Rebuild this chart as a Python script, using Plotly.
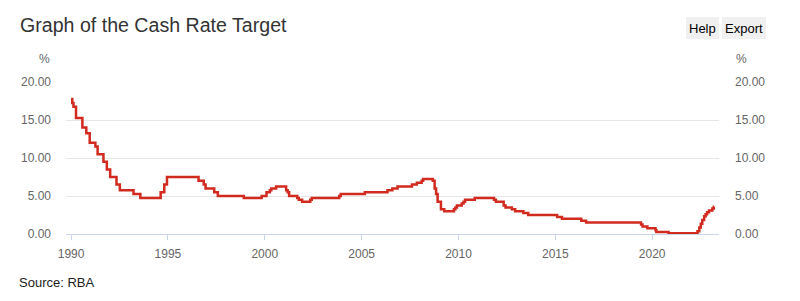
import plotly.graph_objects as go

# Cash rate target: change dates and new levels (%)
dates = [
    "1990-01-01", "1990-01-23", "1990-02-15", "1990-04-04", "1990-08-02", "1990-10-15", "1990-12-18",
    "1991-04-04", "1991-05-16", "1991-09-03", "1991-11-06",
    "1992-01-08", "1992-05-06", "1992-07-08",
    "1993-03-23", "1993-07-30",
    "1994-08-17", "1994-10-24", "1994-12-14",
    "1996-07-31", "1996-11-06", "1996-12-11",
    "1997-05-23", "1997-07-30",
    "1998-12-02",
    "1999-11-03",
    "2000-02-02", "2000-04-05", "2000-05-03", "2000-08-02",
    "2001-02-07", "2001-03-07", "2001-04-04", "2001-09-05", "2001-10-03", "2001-12-05",
    "2002-05-08", "2002-06-05",
    "2003-11-05", "2003-12-03",
    "2005-03-02",
    "2006-05-03", "2006-08-02", "2006-11-08",
    "2007-08-08", "2007-11-07",
    "2008-02-06", "2008-03-05", "2008-09-03", "2008-10-08", "2008-11-05", "2008-12-03",
    "2009-02-04", "2009-04-08", "2009-10-07", "2009-11-04", "2009-12-02",
    "2010-03-03", "2010-04-07", "2010-05-05", "2010-11-03",
    "2011-11-02", "2011-12-07",
    "2012-05-02", "2012-06-06", "2012-10-03", "2012-12-05",
    "2013-05-08", "2013-08-07",
    "2015-02-04", "2015-05-06",
    "2016-05-04", "2016-08-03",
    "2019-06-05", "2019-07-03", "2019-10-02",
    "2020-03-04", "2020-03-20", "2020-11-04",
    "2022-05-04", "2022-06-08", "2022-07-06", "2022-08-03", "2022-09-07", "2022-10-05",
    "2022-11-02", "2022-12-07",
    "2023-02-08", "2023-03-08", "2023-03-15",
]
rates = [
    17.75, 17.25, 16.75, 15.25, 14.00, 13.25, 12.00,
    11.50, 10.50, 9.50, 8.50,
    7.50, 6.50, 5.75,
    5.25, 4.75,
    5.50, 6.50, 7.50,
    7.00, 6.50, 6.00,
    5.50, 5.00,
    4.75,
    5.00,
    5.50, 5.75, 6.00, 6.25,
    5.75, 5.50, 5.00, 4.75, 4.50, 4.25,
    4.50, 4.75,
    5.00, 5.25,
    5.50,
    5.75, 6.00, 6.25,
    6.50, 6.75,
    7.00, 7.25, 7.00, 6.00, 5.25, 4.25,
    3.25, 3.00, 3.25, 3.50, 3.75,
    4.00, 4.25, 4.50, 4.75,
    4.50, 4.25,
    3.75, 3.50, 3.25, 3.00,
    2.75, 2.50,
    2.25, 2.00,
    1.75, 1.50,
    1.25, 1.00, 0.75,
    0.50, 0.25, 0.10,
    0.35, 0.85, 1.35, 1.85, 2.35, 2.60,
    2.85, 3.10,
    3.35, 3.60, 3.60,
]
x_tick_vals = ["1990-01-01", "1995-01-01", "2000-01-01", "2005-01-01", "2010-01-01", "2015-01-01", "2020-01-01"]
x_tick_text = ["1990", "1995", "2000", "2005", "2010", "2015", "2020"]
y_ticks = [0, 5, 10, 15, 20]

W, H = 800, 301
L, R, T, B = 66, 81, 82, 67
PW, PH = W - L - R, H - T - B

def px(x):
    return (x - L) / PW

def py(y):
    return (H - B - y) / PH

FONT = "Liberation Sans, Arial, sans-serif"

fig = go.Figure()
fig.add_trace(go.Scatter(
    x=dates, y=rates, mode="lines", line=dict(color="#d12a1f", width=2.5, shape="hv"),
    hoverinfo="skip", showlegend=False,
))
# invisible trace for right axis
fig.add_trace(go.Scatter(x=[dates[0]], y=[rates[0]], yaxis="y2", mode="markers",
                         marker=dict(opacity=0), showlegend=False, hoverinfo="skip"))

axis_font = dict(family=FONT, size=12, color="#666666")
fig.update_layout(
    width=W, height=H,
    margin=dict(l=L, r=R, t=T, b=B),
    paper_bgcolor="white", plot_bgcolor="white",
    font=dict(family=FONT),
    title=dict(text="Graph of the Cash Rate Target", x=20 / W, xanchor="left", xref="container",
               y=1 - 25 / H, yanchor="middle", yref="container",
               font=dict(family=FONT, size=19.6, color="#333333")),
    xaxis=dict(type="date", range=["1989-09-27", "2023-06-14"], tickvals=x_tick_vals, ticktext=x_tick_text,
               showgrid=False, showline=True, linecolor="#ccd6eb", linewidth=1,
               ticks="outside", ticklen=5, tickcolor="#ccd6eb", tickfont=axis_font, zeroline=False,
               ticklabelstandoff=4),
    yaxis=dict(range=[0, 20], tickvals=y_ticks, tickformat=".2f", showgrid=True, gridcolor="#e6e6e6",
               zeroline=False, tickfont=axis_font, ticks="", ticklabelstandoff=14, fixedrange=True),
    yaxis2=dict(range=[0, 20], tickvals=y_ticks, tickformat=".2f", overlaying="y", side="right",
                showgrid=False, zeroline=False, tickfont=axis_font, ticks="", ticklabelstandoff=15),
)

# Buttons
for x0, x1, label in [(686, 719, "Help"), (722, 766, "Export")]:
    fig.add_shape(type="rect", xref="paper", yref="paper", x0=px(x0), x1=px(x1), y0=py(39), y1=py(17),
                  fillcolor="#f0f0f0", line=dict(width=0), layer="below")
    fig.add_annotation(text=label, xref="paper", yref="paper", x=px((x0 + x1) / 2), y=py(28.5),
                       showarrow=False, xanchor="center", yanchor="middle",
                       font=dict(family=FONT, size=13, color="#000000"))

# % labels
for xp in (44, 741):
    fig.add_annotation(text="%", xref="paper", yref="paper", x=px(xp), y=py(58.5), showarrow=False,
                       xanchor="center", yanchor="middle", font=axis_font)

fig.add_annotation(text="Source: RBA", xref="paper", yref="paper", x=px(17), y=py(282.5), showarrow=False,
                   xanchor="left", yanchor="middle", font=dict(family=FONT, size=13, color="#222222"))

fig.write_html("out.html")
